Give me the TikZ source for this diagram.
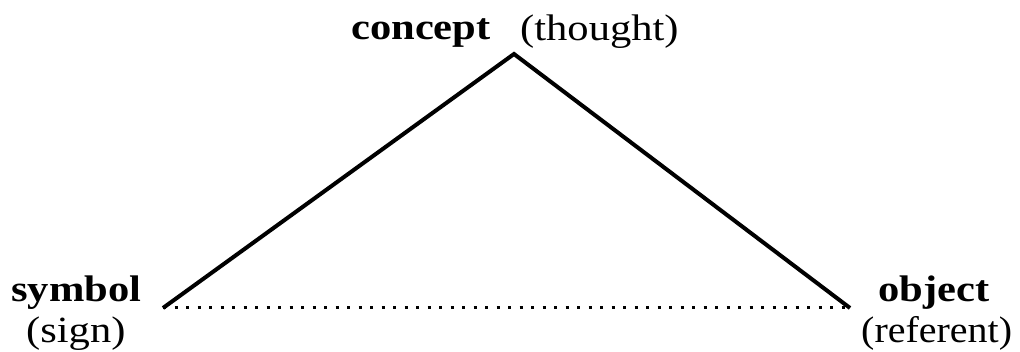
\documentclass[tikz,border=0pt]{standalone}
\usepackage{fontspec}
\setmainfont{Liberation Serif}
\usepackage{graphicx}
\usepackage{tikz}
\usetikzlibrary{positioning}

\newcommand{\widetxt}[2][1.15]{\scalebox{#1}[1]{#2}}

\begin{document}
\begin{tikzpicture}[x=1pt, y=-1pt,
			lbl/.style={anchor=base west, inner sep=0pt, font=\fontsize{37}{42}\selectfont},
			key/.style={lbl, font=\fontsize{37}{42}\selectfont\bfseries},
			side/.style={line width=4pt, line join=miter},
			base/.style={line width=3pt, dash pattern=on 3pt off 8.5pt}]
			
			\useasboundingbox (0,0) rectangle (1020,352);
			
			\coordinate (apex) at (514,54);
			\coordinate (left) at (163,308);
			\coordinate (right) at (850,308);
			
			\node[key] (concept) at (351,40) {\widetxt{concept}};
			\node[lbl] (thought) at (520,41) {\widetxt{(thought)}};
			\node[key] (symbol) at (11,302) {\widetxt{symbol}};
			\node[lbl] (sign) at (26,343) {\widetxt{(sign)}};
			\node[key] (object) at (878,302) {\widetxt{object}};
			\node[lbl] (referent) at (861,343) {\widetxt[1.08]{(referent)}};
			
			\draw[side] (left) -- (apex) -- (right);
			\draw[base] (left) -- (right);
			
		\end{tikzpicture}
\end{document}
